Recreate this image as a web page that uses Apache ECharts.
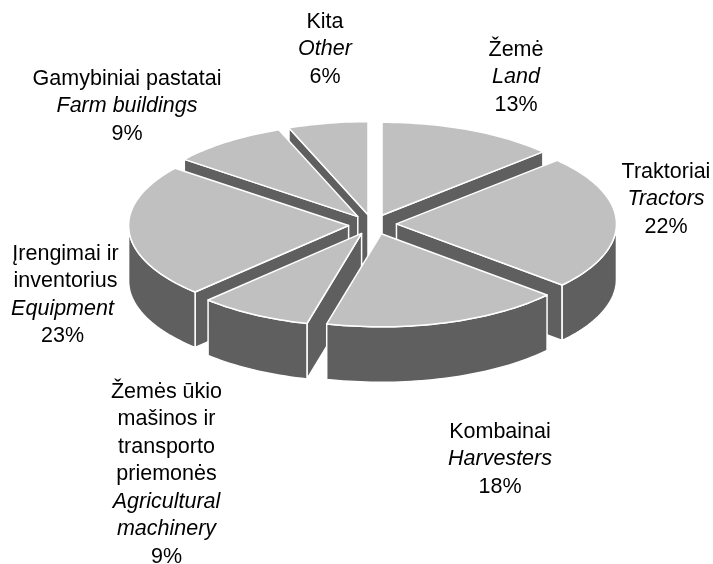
<!DOCTYPE html>
<html>
<head>
<meta charset="utf-8">
<style>html,body{margin:0;padding:0;background:#fff}#c{width:713px;height:564px}</style>
<script src="https://cdn.jsdelivr.net/npm/echarts@6/dist/echarts.min.js"></script>
</head>
<body>
<div id="c"></div>
<script>
// Data, clockwise from 12 o'clock
var categoriesLt = ['Žemė', 'Traktoriai', 'Kombainai', 'Žemės ūkio\nmašinos ir\ntransporto\npriemonės', 'Įrengimai ir\ninventorius', 'Gamybiniai pastatai', 'Kita'];
var categoriesEn = ['Land', 'Tractors', 'Harvesters', 'Agricultural\nmachinery', 'Equipment ', 'Farm buildings', 'Other'];
var shares = [13, 22, 18, 9, 23, 9, 6];
var shareSuffix = ['', '', '', '', ' ', '', ''];

// Layout of the tilted pie
var CX = 372.5, CY = 224.5, RX = 220, RY = 93, DEPTH = 55.5, EX = 24, EY = 10;
var TOP = '#C0C0C0', SIDE = '#5F5F5F', EDGE = '#FFFFFF';
var labelCentres = [[516, 36], [666, 158], [500, 418], [166.5, 378], [65.5, 240], [127, 65], [325, 8]];

var total = shares.reduce(function (a, b) { return a + b; }, 0);
// Projection of the tilted disc: the reference's sweep is slightly stretched around the front and back-left
function warp(deg) {
  var t = (deg - 150) / 55, u = (deg - 310) / 25;
  return deg + 6.2 * Math.exp(-t * t) + 2 * Math.exp(-u * u);
}
function rad(d) { return d * Math.PI / 180; }

function renderSlice(params, api) {
  var i = params.dataIndex;
  var before = 0;
  for (var k = 0; k < i; k++) before += shares[k];
  var a = i === 0 ? 0 : warp(before / total * 360);
  var b = i === shares.length - 1 ? 360 : warp((before + api.value(1)) / total * 360);
  var mid = (before + api.value(1) / 2) / total * 360;
  var ax = CX + EX * Math.sin(rad(mid));
  var ay = CY - EY * Math.cos(rad(mid));
  function pt(d) { return [ax + RX * Math.sin(rad(d)), ay - RY * Math.cos(rad(d))]; }
  function arc(from, to) {
    var pts = [], n = Math.max(2, Math.ceil((to - from) / 1.5));
    for (var s = 0; s <= n; s++) pts.push(pt(from + (to - from) * s / n));
    return pts;
  }
  function drop(p) { return [p[0], p[1] + DEPTH]; }
  var z = Math.round(ay * 10);
  var order = 0;
  function poly(points, fill) {
    order++;
    return { type: 'polygon', z2: z + order * 0.01, shape: { points: points },
      style: { fill: fill, stroke: EDGE, lineWidth: 1.5, lineJoin: 'round' } };
  }
  var children = [];
  var apex = [ax, ay];
  if (a > 180) { var pa = pt(a); children.push(poly([apex, pa, drop(pa), drop(apex)], SIDE)); }
  if (b < 180) { var pb = pt(b); children.push(poly([apex, pb, drop(pb), drop(apex)], SIDE)); }
  var w0 = Math.max(a, 90), w1 = Math.min(b, 270);
  if (w1 > w0) {
    var top = arc(w0, w1);
    children.push(poly(top.concat(top.slice().reverse().map(drop)), SIDE));
  }
  children.push(poly([apex].concat(arc(a, b)), TOP));
  return { type: 'group', children: children };
}

var labelGraphics = shares.map(function (v, i) {
  var lt = categoriesLt[i].split('\n').map(function (s) { return '{n|' + s + '}'; });
  var en = categoriesEn[i].split('\n').map(function (s) { return '{i|' + s + '}'; });
  return {
    type: 'text', x: labelCentres[i][0], y: labelCentres[i][1], z: 10,
    style: {
      text: lt.concat(en, ['{n|' + v + '%' + shareSuffix[i] + '}']).join('\n'),
      align: 'center', verticalAlign: 'top', fill: '#000',
      rich: {
        n: { fontFamily: 'Liberation Sans', fontSize: 21.5, lineHeight: 27.5, fill: '#000', align: 'center' },
        i: { fontFamily: 'Liberation Sans', fontSize: 21.5, fontStyle: 'italic', lineHeight: 27.5, fill: '#000', align: 'center' }
      }
    }
  };
});

var chart = echarts.init(document.getElementById('c'), null, { renderer: 'canvas' });
chart.setOption({
  animation: false,
  backgroundColor: '#FFFFFF',
  graphic: { elements: labelGraphics },
  series: [{
    type: 'custom',
    coordinateSystem: 'none',
    silent: true,
    renderItem: renderSlice,
    encode: { value: 1 },
    data: shares.map(function (v, i) { return [i, v]; })
  }]
});
</script>
</body>
</html>
